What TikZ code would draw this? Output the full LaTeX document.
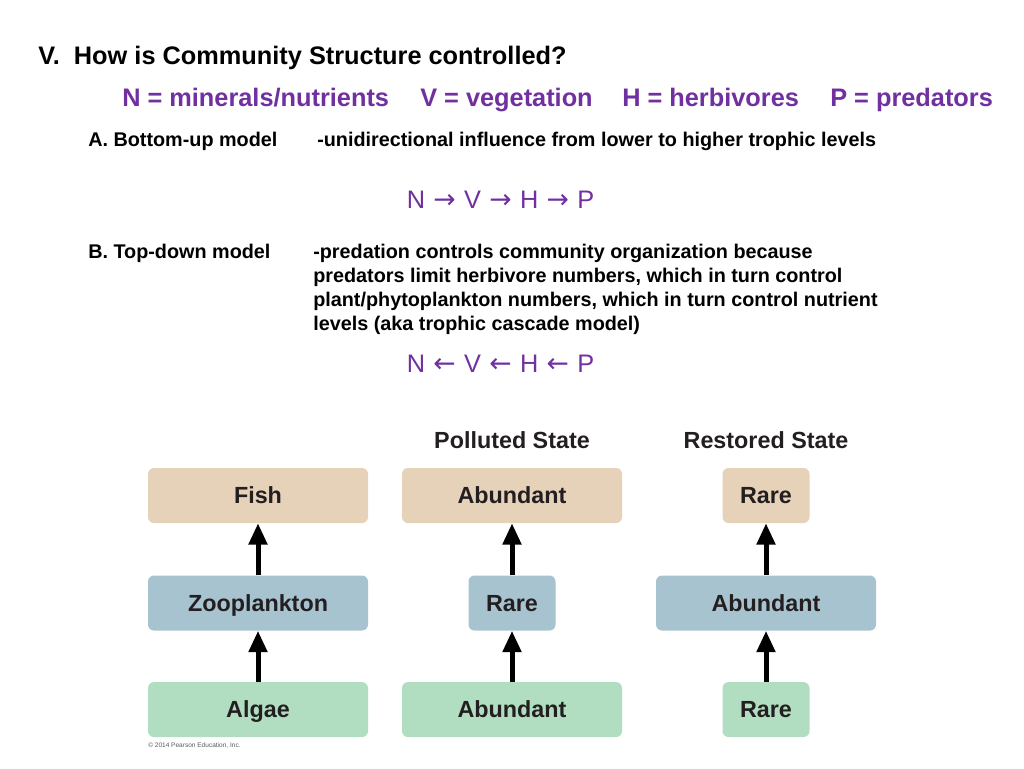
\documentclass[tikz,border=0pt]{standalone}
\usepackage{fontspec}
\setmainfont{Liberation Sans}
\newfontfamily\arrowfont{DejaVu Sans}
\usetikzlibrary{arrows.meta,positioning}
\definecolor{slidepurple}{HTML}{7030A0}
\definecolor{tanfill}{HTML}{E6D1B9}
\definecolor{bluefill}{HTML}{A7C3CF}
\definecolor{greenfill}{HTML}{B1DEC1}
\definecolor{labelgray}{HTML}{231F20}
\newcommand{\slidetitle}{\fontsize{19}{23}\selectfont\bfseries}
\newcommand{\slidebody}{\fontsize{14.85}{18}\selectfont\bfseries}
\newcommand{\chainfont}{\fontsize{19}{23}\selectfont}
\newcommand{\boxfont}{\fontsize{17.5}{20}\selectfont\bfseries}
\newcommand{\ra}{\hspace{6.25pt}{\arrowfont\fontsize{20}{23}\selectfont →}\hspace{6.25pt}}
\newcommand{\la}{\hspace{6.25pt}{\arrowfont\fontsize{20}{23}\selectfont ←}\hspace{6.25pt}}
\tikzstyle{block} = [rectangle, rounded corners=4.5pt, inner sep=0pt,
    minimum height=41.25pt, text=labelgray, font=\boxfont,
    text height=12.6pt, text depth=0pt]
\tikzstyle{wide} = [block, minimum width=165pt]
\tikzstyle{narrow} = [block, minimum width=65.25pt]
\tikzstyle{line} = [draw, line width=3.75pt, -{Triangle[length=16pt,width=13.5pt]}]
\tikzstyle{textline} = [anchor=base west, inner sep=0pt]

\begin{document}
\begin{tikzpicture}[x=0.75pt,y=-0.75pt]
  \useasboundingbox (0,0) rectangle (1024,768);
  % texts
  \node [textline, font=\slidetitle](title) at (38,64) {V.~~How is Community Structure controlled?};
  \node [textline, font=\slidetitle, text=slidepurple](nkey) at (122,106) {N = minerals/nutrients};
  \node [textline, font=\slidetitle, text=slidepurple](vkey) at (420,106) {V = vegetation};
  \node [textline, font=\slidetitle, text=slidepurple](hkey) at (622,106) {H = herbivores};
  \node [textline, font=\slidetitle, text=slidepurple](pkey) at (830,106) {P = predators};
  \node [textline, font=\slidebody](bottomup) at (88,146) {A. Bottom-up model};
  \node [textline, font=\slidebody](bottomupdesc) at (317,146) {-unidirectional influence from lower to higher trophic levels};
  \node [anchor=base, inner sep=0pt, font=\chainfont, text=slidepurple](upchain) at (500.5,208) {N\ra V\ra H\ra P};
  \node [textline, font=\slidebody](topdown) at (88,258) {B. Top-down model};
  \node [anchor=north west, inner sep=0pt, align=left, font=\slidebody](topdowndesc) at (313,244)
    {-predation controls community organization because\\
     predators limit herbivore numbers, which in turn control\\
     plant/phytoplankton numbers, which in turn control nutrient\\
     levels (aka trophic cascade model)};
  \node [anchor=base, inner sep=0pt, font=\chainfont, text=slidepurple](downchain) at (500.5,372) {N\la V\la H\la P};
  \node [anchor=base, inner sep=0pt, font=\boxfont, text=labelgray](polluted) at (512,448) {Polluted State};
  \node [anchor=base, inner sep=0pt, font=\boxfont, text=labelgray](restored) at (766,448) {Restored State};
  % nodes
  \node [wide, fill=tanfill](fish) at (258,495.5) {Fish};
  \node [wide, fill=bluefill, below=39pt of fish](zoo) {Zooplankton};
  \node [wide, fill=greenfill, below=38.25pt of zoo](algae) {Algae};
  \node [wide, fill=tanfill](pollfish) at (512,495.5) {Abundant};
  \node [narrow, fill=bluefill, below=39pt of pollfish](pollzoo) {Rare};
  \node [wide, fill=greenfill, below=38.25pt of pollzoo](pollalgae) {Abundant};
  \node [narrow, fill=tanfill](restfish) at (766,495.5) {Rare};
  \node [wide, fill=bluefill, below=39pt of restfish](restzoo) {Abundant};
  \node [narrow, fill=greenfill, below=38.25pt of restzoo](restalgae) {Rare};
  \node [anchor=west, inner sep=0pt, font=\fontsize{4.9}{6}\selectfont, text=black!65](credit) at (148,746)
    {\textcopyright{} 2014 Pearson Education, Inc.};
  % edges
  \path [line] (algae) -- (zoo);
  \path [line] (zoo) -- (fish);
  \path [line] (pollalgae) -- (pollzoo);
  \path [line] (pollzoo) -- (pollfish);
  \path [line] (restalgae) -- (restzoo);
  \path [line] (restzoo) -- (restfish);
\end{tikzpicture}
\end{document}
